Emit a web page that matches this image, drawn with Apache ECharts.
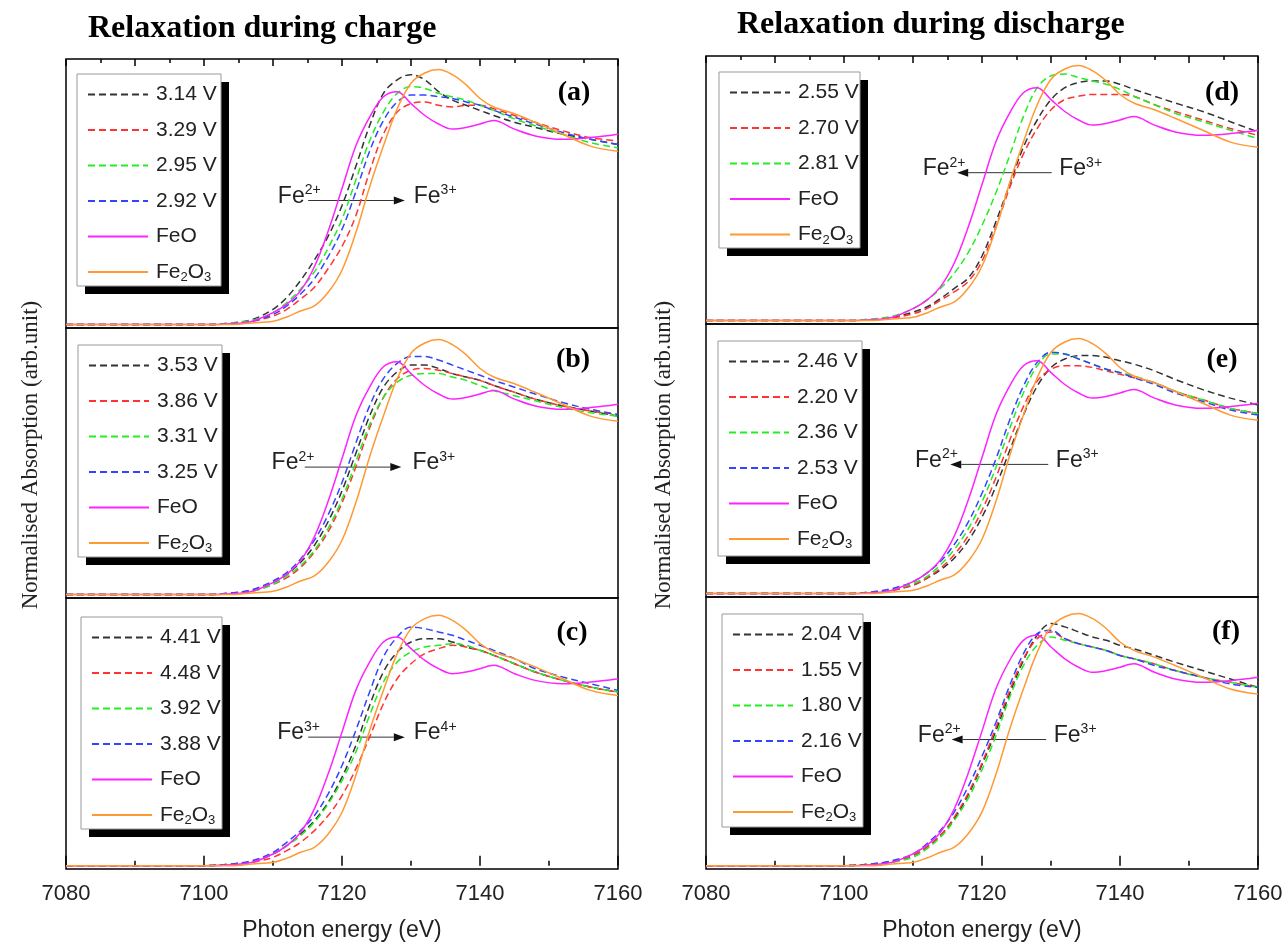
<!DOCTYPE html>
<html>
<head>
<meta charset="utf-8">
<script src="https://cdn.jsdelivr.net/npm/echarts@6/dist/echarts.min.js"></script>
<style>
  html, body { margin: 0; padding: 0; background: #fff; }
  #chart { width: 1286px; height: 943px; }
</style>
</head>
<body>
<div id="chart"></div>
<script>
// photon energy grid (eV)
const energy = [7080, 7090, 7100, 7104, 7107, 7110, 7112, 7114, 7116, 7118, 7120, 7122, 7124, 7126, 7128, 7130, 7132, 7134, 7136, 7138, 7140, 7142, 7145, 7148, 7152, 7156, 7160]

// reference spectra (same in every panel)
const feo = [0, 0, 0, 0.005, 0.02, 0.07, 0.12, 0.2, 0.34, 0.55, 0.8, 1.05, 1.22, 1.34, 1.37, 1.3, 1.23, 1.18, 1.15, 1.16, 1.18, 1.2, 1.15, 1.11, 1.09, 1.1, 1.12]
const fe2o3 = [0, 0, 0, 0, 0.01, 0.02, 0.045, 0.08, 0.11, 0.19, 0.32, 0.54, 0.81, 1.05, 1.27, 1.42, 1.48, 1.5, 1.47, 1.41, 1.33, 1.28, 1.24, 1.19, 1.12, 1.05, 1.02]

// (a) charge
const a314 = [0, 0, 0, 0.01, 0.03, 0.09, 0.16, 0.26, 0.38, 0.52, 0.7, 0.93, 1.17, 1.36, 1.44, 1.47, 1.44, 1.37, 1.32, 1.29, 1.26, 1.23, 1.19, 1.16, 1.12, 1.09, 1.06]
const a329 = [0, 0, 0, 0.005, 0.02, 0.05, 0.09, 0.15, 0.22, 0.33, 0.46, 0.64, 0.9, 1.12, 1.25, 1.3, 1.31, 1.29, 1.28, 1.29, 1.29, 1.27, 1.23, 1.19, 1.14, 1.1, 1.08]
const a295 = [0, 0, 0, 0.01, 0.025, 0.07, 0.13, 0.21, 0.31, 0.45, 0.62, 0.85, 1.08, 1.25, 1.36, 1.4, 1.39, 1.36, 1.34, 1.32, 1.29, 1.26, 1.21, 1.17, 1.12, 1.07, 1.04]
const a292 = [0, 0, 0, 0.005, 0.02, 0.06, 0.11, 0.18, 0.27, 0.4, 0.56, 0.78, 1.02, 1.2, 1.31, 1.35, 1.35, 1.34, 1.33, 1.31, 1.29, 1.26, 1.22, 1.18, 1.13, 1.09, 1.06]
// (b)
const b353 = [0, 0, 0, 0.01, 0.025, 0.07, 0.12, 0.19, 0.29, 0.43, 0.61, 0.83, 1.05, 1.22, 1.31, 1.35, 1.35, 1.33, 1.3, 1.28, 1.26, 1.23, 1.19, 1.15, 1.11, 1.08, 1.05]
const b386 = [0, 0, 0, 0.005, 0.02, 0.06, 0.1, 0.16, 0.25, 0.37, 0.54, 0.75, 0.98, 1.16, 1.27, 1.32, 1.33, 1.32, 1.3, 1.28, 1.26, 1.23, 1.19, 1.15, 1.11, 1.08, 1.06]
const b331 = [0, 0, 0, 0.005, 0.02, 0.06, 0.11, 0.17, 0.26, 0.39, 0.56, 0.78, 1, 1.16, 1.25, 1.29, 1.3, 1.3, 1.28, 1.26, 1.23, 1.2, 1.17, 1.14, 1.1, 1.07, 1.05]
const b325 = [0, 0, 0, 0.01, 0.03, 0.08, 0.13, 0.21, 0.32, 0.47, 0.66, 0.89, 1.11, 1.27, 1.36, 1.4, 1.4, 1.38, 1.35, 1.32, 1.29, 1.26, 1.22, 1.18, 1.13, 1.09, 1.06]
// (c)
const c441 = [0, 0, 0, 0.01, 0.025, 0.07, 0.12, 0.19, 0.27, 0.38, 0.53, 0.72, 0.96, 1.16, 1.28, 1.34, 1.36, 1.36, 1.34, 1.31, 1.29, 1.26, 1.21, 1.16, 1.11, 1.07, 1.04]
const c448 = [0, 0, 0, 0.005, 0.02, 0.05, 0.09, 0.14, 0.21, 0.3, 0.42, 0.58, 0.77, 0.97, 1.12, 1.21, 1.27, 1.3, 1.32, 1.31, 1.29, 1.26, 1.21, 1.16, 1.11, 1.07, 1.04]
const c392 = [0, 0, 0, 0.01, 0.025, 0.07, 0.12, 0.18, 0.26, 0.37, 0.51, 0.68, 0.9, 1.1, 1.22, 1.28, 1.31, 1.32, 1.33, 1.32, 1.29, 1.26, 1.21, 1.16, 1.11, 1.07, 1.04]
const c388 = [0, 0, 0, 0.01, 0.03, 0.08, 0.14, 0.21, 0.3, 0.43, 0.6, 0.81, 1.04, 1.25, 1.37, 1.43, 1.42, 1.4, 1.38, 1.35, 1.32, 1.29, 1.24, 1.18, 1.13, 1.09, 1.05]
// (d) discharge
const d255 = [0, 0, 0, 0.005, 0.02, 0.05, 0.08, 0.13, 0.19, 0.25, 0.38, 0.58, 0.8, 1.02, 1.18, 1.3, 1.37, 1.4, 1.41, 1.41, 1.39, 1.36, 1.32, 1.28, 1.23, 1.17, 1.11]
const d270 = [0, 0, 0, 0.005, 0.015, 0.04, 0.07, 0.12, 0.17, 0.23, 0.35, 0.55, 0.78, 0.98, 1.13, 1.24, 1.3, 1.32, 1.33, 1.33, 1.33, 1.32, 1.27, 1.23, 1.18, 1.13, 1.09]
const d281 = [0, 0, 0, 0.01, 0.025, 0.07, 0.12, 0.19, 0.28, 0.4, 0.56, 0.75, 0.97, 1.2, 1.37, 1.44, 1.45, 1.43, 1.41, 1.39, 1.36, 1.32, 1.27, 1.22, 1.17, 1.12, 1.07]
// (e)
const e246 = [0, 0, 0, 0.005, 0.02, 0.05, 0.09, 0.14, 0.21, 0.31, 0.45, 0.63, 0.84, 1.05, 1.22, 1.33, 1.38, 1.4, 1.4, 1.39, 1.37, 1.35, 1.31, 1.26, 1.2, 1.15, 1.11]
const e220 = [0, 0, 0, 0.005, 0.02, 0.05, 0.09, 0.15, 0.23, 0.34, 0.49, 0.68, 0.9, 1.1, 1.25, 1.32, 1.34, 1.34, 1.33, 1.31, 1.29, 1.27, 1.24, 1.19, 1.14, 1.09, 1.06]
const e236 = [0, 0, 0, 0.01, 0.025, 0.06, 0.1, 0.17, 0.26, 0.38, 0.54, 0.74, 0.97, 1.18, 1.34, 1.41, 1.41, 1.38, 1.35, 1.32, 1.3, 1.28, 1.24, 1.19, 1.14, 1.09, 1.06]
const e253 = [0, 0, 0, 0.01, 0.03, 0.07, 0.12, 0.19, 0.29, 0.42, 0.59, 0.79, 1.02, 1.22, 1.36, 1.42, 1.41, 1.38, 1.35, 1.32, 1.3, 1.27, 1.23, 1.18, 1.13, 1.08, 1.05]
// (f)
const f204 = [0, 0, 0, 0.01, 0.025, 0.06, 0.11, 0.18, 0.28, 0.42, 0.6, 0.8, 1.02, 1.22, 1.37, 1.44, 1.42, 1.39, 1.36, 1.34, 1.31, 1.29, 1.25, 1.21, 1.16, 1.11, 1.06]
const f155 = [0, 0, 0, 0.01, 0.025, 0.06, 0.11, 0.18, 0.29, 0.43, 0.61, 0.82, 1.04, 1.23, 1.35, 1.39, 1.35, 1.32, 1.3, 1.28, 1.25, 1.23, 1.2, 1.16, 1.12, 1.09, 1.06]
const f180 = [0, 0, 0, 0.01, 0.02, 0.05, 0.1, 0.17, 0.27, 0.4, 0.57, 0.77, 1, 1.19, 1.31, 1.36, 1.34, 1.32, 1.3, 1.28, 1.25, 1.23, 1.2, 1.16, 1.12, 1.09, 1.06]
const f216 = [0, 0, 0, 0.01, 0.03, 0.07, 0.13, 0.21, 0.32, 0.47, 0.65, 0.85, 1.07, 1.26, 1.38, 1.4, 1.35, 1.32, 1.3, 1.28, 1.25, 1.23, 1.19, 1.16, 1.12, 1.08, 1.06]

const dashColors = ['#333333', '#ff3333', '#22ee22', '#3344ff']

// panels: name lists go with value lists (black, red, green, blue order)
const panels = [
  { tag: '(a)', names: ['3.14 V', '3.29 V', '2.95 V', '2.92 V'], values: [a314, a329, a295, a292] },
  { tag: '(b)', names: ['3.53 V', '3.86 V', '3.31 V', '3.25 V'], values: [b353, b386, b331, b325] },
  { tag: '(c)', names: ['4.41 V', '4.48 V', '3.92 V', '3.88 V'], values: [c441, c448, c392, c388] },
  { tag: '(d)', names: ['2.55 V', '2.70 V', '2.81 V'], values: [d255, d270, d281] },
  { tag: '(e)', names: ['2.46 V', '2.20 V', '2.36 V', '2.53 V'], values: [e246, e220, e236, e253] },
  { tag: '(f)', names: ['2.04 V', '1.55 V', '1.80 V', '2.16 V'], values: [f204, f155, f180, f216] }
]

// layout (pixels)
const grids = [
  { left: 66, top: 59, width: 552, height: 269 },
  { left: 66, top: 328, width: 552, height: 270 },
  { left: 66, top: 598, width: 552, height: 276 },
  { left: 706, top: 56, width: 552, height: 268 },
  { left: 706, top: 324, width: 552, height: 273 },
  { left: 706, top: 597, width: 552, height: 275 }
]
// legend frames: x, y, w, h
const legendBox = [[77, 74, 144, 212], [78, 345, 144, 212], [81, 617, 141, 212], [719, 72, 141, 176], [718, 341, 144, 215], [722, 614, 141, 213]]
const tagPos = [[574, 93], [573, 360], [572, 633], [1222, 93], [1222, 360], [1226, 632]]
// arrow annotations in data coordinates
const arrows = [
  { p: 0, v: 0.73, from: 7115.1, to: 7129.1, textL: 7110.7, textR: 7130.4, l: 'Fe{u|2+}', r: 'Fe{u|3+}' },
  { p: 1, v: 0.75, from: 7114.6, to: 7128.6, textL: 7109.8, textR: 7130.2, l: 'Fe{u|2+}', r: 'Fe{u|3+}' },
  { p: 2, v: 0.77, from: 7115.1, to: 7129.1, textL: 7110.6, textR: 7130.4, l: 'Fe{u|3+}', r: 'Fe{u|4+}' },
  { p: 3, v: 0.87, from: 7130.1, to: 7116.4, textL: 7111.4, textR: 7131.2, l: 'Fe{u|2+}', r: 'Fe{u|3+}' },
  { p: 4, v: 0.76, from: 7129.6, to: 7115.4, textL: 7110.3, textR: 7130.7, l: 'Fe{u|2+}', r: 'Fe{u|3+}' },
  { p: 5, v: 0.75, from: 7129.3, to: 7115.6, textL: 7110.7, textR: 7130.4, l: 'Fe{u|2+}', r: 'Fe{u|3+}' }
]

const pxPerUnit = 170
const yMin = -0.02
const sans = 'Liberation Sans'

const chart = echarts.init(document.getElementById('chart'))

const xAxes = []
const yAxes = []
const series = []
const legends = []

grids.forEach((g, p) => {
  const isBottom = p === 2 || p === 5
  xAxes.push({
    gridIndex: p,
    type: 'value',
    min: 7080,
    max: 7160,
    interval: 20,
    axisLine: { show: false },
    splitLine: { show: false },
    axisTick: { show: isBottom, inside: true, length: 10, lineStyle: { color: '#000', width: 1.5 } },
    minorTick: { show: isBottom, splitNumber: 2, length: 5, lineStyle: { color: '#000', width: 1.5 } },
    axisLabel: { show: isBottom, fontSize: 22, fontFamily: sans, color: '#222', margin: 14, formatter: v => String(v) },
    name: isBottom ? 'Photon energy (eV)' : '',
    nameLocation: 'middle',
    nameGap: 50,
    nameTextStyle: { fontSize: 23, fontFamily: sans, color: '#222' }
  })
  yAxes.push({
    gridIndex: p,
    type: 'value',
    show: false,
    min: yMin,
    max: yMin + g.height / pxPerUnit
  })
})
// mirrored ticks along the top of the upper panels
;[0, 3].forEach(p => {
  xAxes.push({
    gridIndex: p,
    type: 'value',
    position: 'top',
    min: 7080,
    max: 7160,
    interval: 10,
    axisLine: { show: false },
    splitLine: { show: false },
    axisLabel: { show: false },
    axisTick: { show: true, inside: true, length: 7, lineStyle: { color: '#000', width: 1.5 } },
    minorTick: { show: true, splitNumber: 2, length: 4, lineStyle: { color: '#000', width: 1.5 } }
  })
})

const toPairs = vals => energy.map((e, i) => [e, vals[i]])

panels.forEach((pn, p) => {
  pn.values.forEach((vals, i) => {
    series.push({
      type: 'line',
      name: pn.names[i],
      xAxisIndex: p,
      yAxisIndex: p,
      data: toPairs(vals),
      smooth: 0.35,
      symbol: 'none',
      lineStyle: { color: dashColors[i], width: 1.5, type: [7, 4] },
      itemStyle: { color: dashColors[i] }
    })
  })
  series.push({
    type: 'line', name: 'FeO', xAxisIndex: p, yAxisIndex: p, data: toPairs(feo),
    smooth: 0.35, symbol: 'none',
    lineStyle: { color: '#ff22ff', width: 1.5 }, itemStyle: { color: '#ff22ff' }
  })
  series.push({
    type: 'line', name: 'Fe2O3', xAxisIndex: p, yAxisIndex: p, data: toPairs(fe2o3),
    smooth: 0.35, symbol: 'none',
    lineStyle: { color: '#ff9933', width: 1.5 }, itemStyle: { color: '#ff9933' }
  })
  legends.push({
    data: pn.names.concat(['FeO', 'Fe2O3']),
    orient: 'vertical',
    left: legendBox[p][0],
    top: legendBox[p][1],
    z: 6,
    itemWidth: 60,
    itemHeight: 20,
    itemGap: 14.5,
    padding: [10, 6, 10, 10],
    selectedMode: false,
    itemStyle: { opacity: 0 },
    formatter: name => name === 'Fe2O3' ? 'Fe{s|2}O{s|3}' : name,
    textStyle: {
      fontSize: 21,
      fontFamily: sans,
      color: '#222',
      padding: [0, 0, 0, 3],
      rich: { s: { fontSize: 13, fontFamily: sans, color: '#222', padding: [11, 0, 0, 0] } }
    }
  })
})

chart.setOption({
  animation: false,
  backgroundColor: '#fff',
  grid: grids.map(g => Object.assign({ show: true, borderColor: '#000', borderWidth: 1.5, backgroundColor: 'transparent' }, g)),
  xAxis: xAxes,
  yAxis: yAxes,
  legend: legends,
  series: series
})

// frames, text and arrows
const graphics = [
  { type: 'text', x: 88, y: 29, style: { text: 'Relaxation during charge', font: 'bold 32px "Liberation Serif"', fill: '#000', align: 'left', verticalAlign: 'middle' } },
  { type: 'text', x: 737, y: 25, style: { text: 'Relaxation during discharge', font: 'bold 32px "Liberation Serif"', fill: '#000', align: 'left', verticalAlign: 'middle' } },
  { type: 'text', x: 31, y: 455, rotation: Math.PI / 2, style: { text: 'Normalised Absorption (arb.unit)', font: '23px "Liberation Serif"', fill: '#222', align: 'center', verticalAlign: 'middle' } },
  { type: 'text', x: 664, y: 455, rotation: Math.PI / 2, style: { text: 'Normalised Absorption (arb.unit)', font: '23px "Liberation Serif"', fill: '#222', align: 'center', verticalAlign: 'middle' } }
]
legendBox.forEach(b => {
  graphics.push({ type: 'rect', z: 4, shape: { x: b[0] + 8, y: b[1] + 8, width: b[2], height: b[3] }, style: { fill: '#000' } })
  graphics.push({ type: 'rect', z: 5, shape: { x: b[0], y: b[1], width: b[2], height: b[3] }, style: { fill: '#fff', stroke: '#999', lineWidth: 1 } })
})
panels.forEach((pn, p) => {
  graphics.push({ type: 'text', x: tagPos[p][0], y: tagPos[p][1], style: { text: pn.tag, font: 'bold 28px "Liberation Serif"', fill: '#000', align: 'center', verticalAlign: 'middle' } })
})
const rich = { u: { fontSize: 14, fontFamily: sans, fill: '#222', padding: [0, 0, 12, 0] } }
arrows.forEach(a => {
  const finder = { xAxisIndex: a.p, yAxisIndex: a.p }
  const s = chart.convertToPixel(finder, [a.from, a.v])
  const t = chart.convertToPixel(finder, [a.to, a.v])
  const tl = chart.convertToPixel(finder, [a.textL, a.v])
  const tr = chart.convertToPixel(finder, [a.textR, a.v])
  const dir = t[0] > s[0] ? 1 : -1
  const headLen = 11
  graphics.push({ type: 'line', shape: { x1: s[0], y1: s[1], x2: t[0] - dir * headLen, y2: t[1] }, style: { stroke: '#333', lineWidth: 1 } })
  graphics.push({ type: 'polygon', shape: { points: [[t[0], t[1]], [t[0] - dir * headLen, t[1] - 4], [t[0] - dir * headLen, t[1] + 4]] }, style: { fill: '#111' } })
  graphics.push({ type: 'text', x: tl[0], y: tl[1] - 4, style: { text: a.l, rich: rich, font: '23px "Liberation Sans"', fill: '#222', align: 'left', verticalAlign: 'middle' } })
  graphics.push({ type: 'text', x: tr[0], y: tr[1] - 4, style: { text: a.r, rich: rich, font: '23px "Liberation Sans"', fill: '#222', align: 'left', verticalAlign: 'middle' } })
})
chart.setOption({ graphic: graphics })
</script>
</body>
</html>
